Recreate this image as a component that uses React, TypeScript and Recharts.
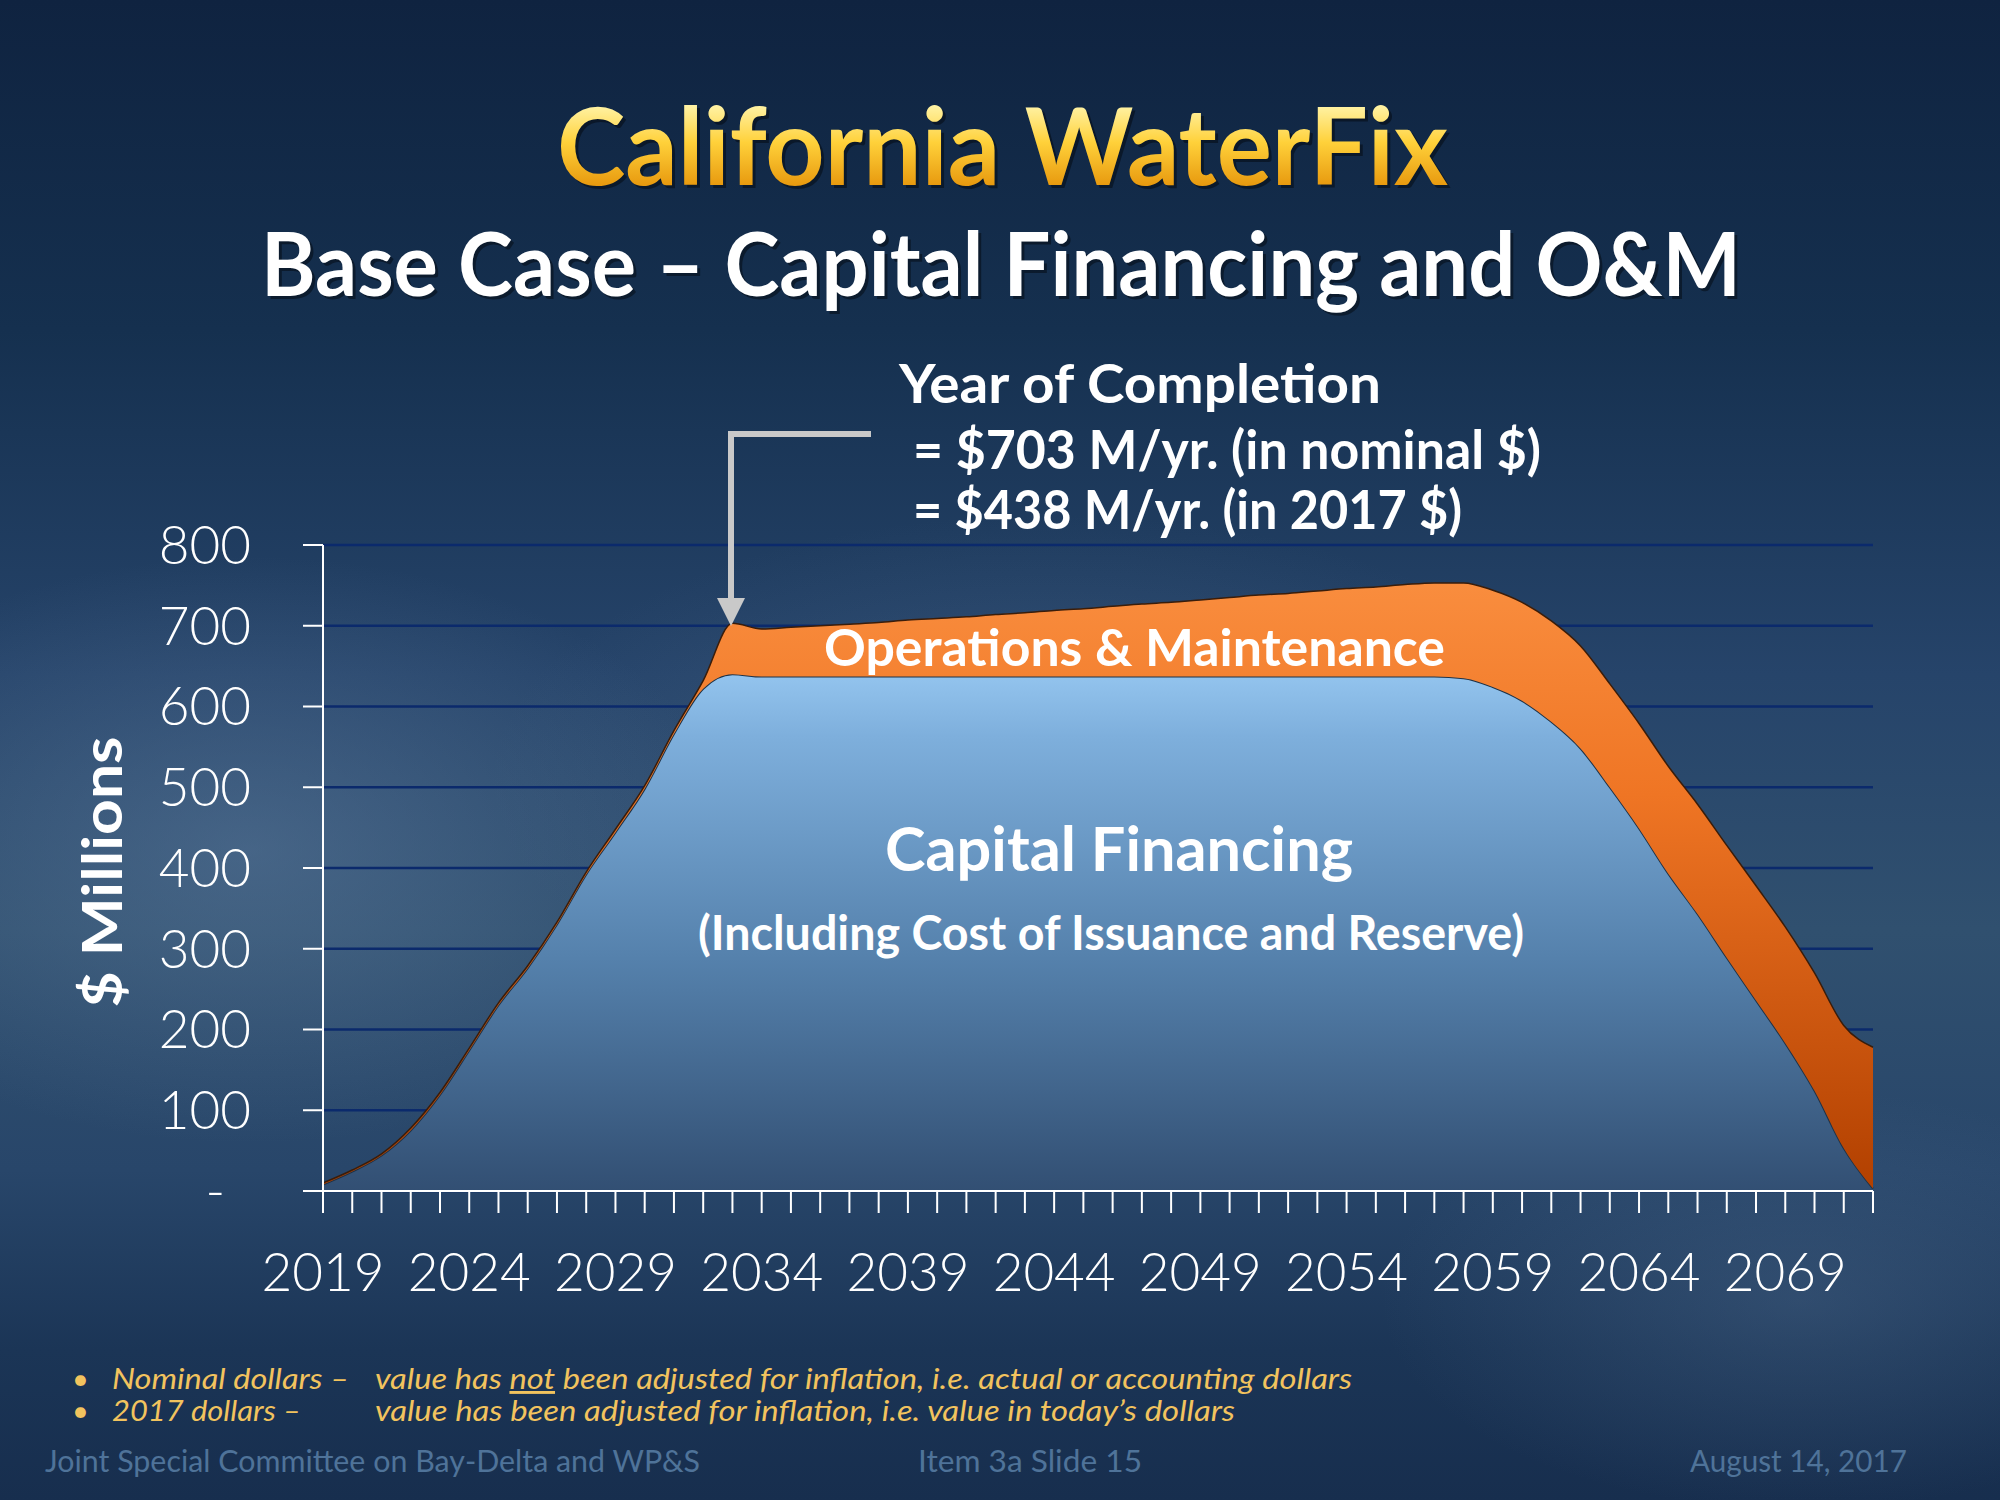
import { AreaChart, Area, XAxis, YAxis, CartesianGrid } from 'recharts';

const years = [
  2019, 2020, 2021, 2022, 2023, 2024, 2025, 2026, 2027, 2028, 2029, 2030, 2031, 2032, 2033,
  2034, 2035, 2036, 2037, 2038, 2039, 2040, 2041, 2042, 2043, 2044, 2045, 2046, 2047, 2048,
  2049, 2050, 2051, 2052, 2053, 2054, 2055, 2056, 2057, 2058, 2059, 2060, 2061, 2062, 2063,
  2064, 2065, 2066, 2067, 2068, 2069, 2070, 2071, 2072,
];

// Capital Financing ($ millions, nominal)
const capital = [
  8, 24, 44, 75, 119, 174, 230, 276, 330, 392, 444, 498, 566, 622, 640,
  637, 637, 637, 637, 637, 637, 637, 637, 637, 637, 637, 637, 637, 637, 637,
  637, 637, 637, 637, 637, 637, 637, 637, 637, 635, 624, 607, 581, 548, 500,
  449, 393, 343, 289, 236, 183, 124, 53, 3,
];

// Operations & Maintenance ($ millions, nominal)
const om = [
  2, 2, 2, 3, 3, 3, 3, 3, 3, 3, 4, 4, 4, 10, 63,
  59, 61, 63, 65, 67, 70, 72, 74, 77, 79, 82, 84, 87, 90, 92,
  95, 98, 101, 103, 106, 109, 111, 114, 116, 118, 120, 122, 125, 127, 128,
  130, 133, 136, 139, 142, 144, 146, 152, 175,
];

const yTicks = [0, 100, 200, 300, 400, 500, 600, 700, 800];

const data = years.map((year, i) => ({ year, capital: capital[i], om: om[i] }));

const FONT = 'Lato, "Open Sans", sans-serif';

function YTick(props: any) {
  const { x, y, payload } = props;
  const v = payload.value;
  return (
    <text
      x={v === 0 ? x - 26 : x}
      y={y}
      dy="0.355em"
      textAnchor="end"
      fill="#ffffff"
      fontSize={53}
      fontFamily={FONT}
      fontWeight={300}
    >
      {v === 0 ? '-' : v}
    </text>
  );
}

export default function App() {
  return (
    <div
      style={{
        position: 'absolute',
        left: 0,
        top: 0,
        width: 2000,
        height: 1500,
        fontFamily: FONT,
        overflow: 'hidden',
        background:
          'radial-gradient(ellipse 700px 420px at 250px 850px, rgba(100,130,165,0.45), transparent 70%),' +
          'radial-gradient(ellipse 800px 380px at 1050px 780px, rgba(85,115,150,0.35), transparent 70%),' +
          'radial-gradient(ellipse 600px 300px at 1800px 1300px, rgba(90,120,155,0.3), transparent 70%),' +
          'linear-gradient(180deg, #0f2340 0%, #15304f 22%, #26446a 45%, #30506f 62%, #28466a 78%, #1b3556 90%, #172e4e 100%)',
      }}
    >
      <div style={{ position: 'absolute', left: 0, top: 0 }}>
        <AreaChart
          width={2000}
          height={1500}
          data={data}
          margin={{ top: 545, right: 127, bottom: 189, left: 0 }}
        >
          <defs>
            <linearGradient id="blueFill" x1="0" y1="0" x2="0" y2="1">
              <stop offset="0%" stopColor="#93c4ee" />
              <stop offset="12%" stopColor="#7eafdc" />
              <stop offset="55%" stopColor="#5581ac" />
              <stop offset="100%" stopColor="#324f73" />
            </linearGradient>
            <linearGradient id="orangeFill" x1="0" y1="0" x2="0" y2="1">
              <stop offset="0%" stopColor="#f98d3e" />
              <stop offset="35%" stopColor="#ef7524" />
              <stop offset="100%" stopColor="#b24000" />
            </linearGradient>
          </defs>
          <CartesianGrid vertical={false} stroke="#0b2a6c" strokeWidth={2.5} />
          <XAxis
            dataKey="year"
            interval={0}
            tickSize={22}
            tickMargin={40}
            height={120}
            axisLine={{ stroke: '#ffffff', strokeWidth: 2 }}
            tickLine={{ stroke: '#ffffff', strokeWidth: 2 }}
            tickFormatter={(y: number) => ((y - 2019) % 5 === 0 ? String(y) : '')}
            tick={{ fill: '#ffffff', fontSize: 53, fontFamily: FONT, fontWeight: 300 }}
          />
          <YAxis
            domain={[0, 800]}
            ticks={yTicks}
            interval={0}
            width={323}
            tickSize={20}
            tickMargin={52}
            axisLine={{ stroke: '#ffffff', strokeWidth: 2 }}
            tickLine={{ stroke: '#ffffff', strokeWidth: 2 }}
            tick={YTick}
          />
          <Area
            type="monotone"
            dataKey="capital"
            stackId="1"
            stroke="#1f3246"
            strokeWidth={2}
            fill="url(#blueFill)"
            fillOpacity={1}
            isAnimationActive={false}
          />
          <Area
            type="monotone"
            dataKey="om"
            stackId="1"
            stroke="#3a1d0a"
            strokeWidth={1.5}
            fill="url(#orangeFill)"
            fillOpacity={1}
            isAnimationActive={false}
          />
        </AreaChart>
      </div>

      {/* Slide text and annotations */}
      <svg
        width={2000}
        height={1500}
        style={{ position: 'absolute', left: 0, top: 0, pointerEvents: 'none' }}
        fontFamily={FONT}
      >
        <defs>
          <linearGradient id="gold" gradientUnits="userSpaceOnUse" x1="0" y1="105" x2="0" y2="188">
            <stop offset="0%" stopColor="#fff3a6" />
            <stop offset="45%" stopColor="#ffd13a" />
            <stop offset="100%" stopColor="#e6960c" />
          </linearGradient>
        </defs>

        <text x={560} y={188} textLength={891} lengthAdjust="spacingAndGlyphs" fontSize={107} fontWeight={700} fill="#000" opacity={0.4}>
          California WaterFix
        </text>
        <text x={557} y={185} textLength={891} lengthAdjust="spacingAndGlyphs" fontSize={107} fontWeight={700} fill="url(#gold)">
          California WaterFix
        </text>

        <text x={264} y={299} textLength={1480} lengthAdjust="spacingAndGlyphs" fontSize={88} fontWeight={700} fill="#000" opacity={0.4}>
          Base Case – Capital Financing and O&amp;M
        </text>
        <text x={261} y={296} textLength={1480} lengthAdjust="spacingAndGlyphs" fontSize={88} fontWeight={700} fill="#ffffff">
          Base Case – Capital Financing and O&amp;M
        </text>

        <text x={899} y={403} textLength={482} lengthAdjust="spacingAndGlyphs" fontSize={54} fontWeight={700} fill="#ffffff">
          Year of Completion
        </text>
        <text x={913} y={469} textLength={628} lengthAdjust="spacingAndGlyphs" fontSize={54} fontWeight={700} fill="#ffffff">
          = $703 M/yr. (in nominal $)
        </text>
        <text x={913} y={529} textLength={549} lengthAdjust="spacingAndGlyphs" fontSize={54} fontWeight={700} fill="#ffffff">
          = $438 M/yr. (in 2017 $)
        </text>

        <polyline points="871,434 731,434 731,602" fill="none" stroke="#c9c9c9" strokeWidth={6} />
        <polygon points="717,598 745,598 731,626" fill="#c9c9c9" />

        <text x={824} y={666} textLength={621} lengthAdjust="spacingAndGlyphs" fontSize={52} fontWeight={700} fill="#ffffff">
          Operations &amp; Maintenance
        </text>
        <text x={885} y={871} textLength={468} lengthAdjust="spacingAndGlyphs" fontSize={62} fontWeight={700} fill="#ffffff">
          Capital Financing
        </text>
        <text x={698} y={950} textLength={826} lengthAdjust="spacingAndGlyphs" fontSize={48} fontWeight={700} fill="#ffffff">
          (Including Cost of Issuance and Reserve)
        </text>

        <text
          x={0}
          y={0}
          transform="translate(122,872) rotate(-90)"
          textAnchor="middle"
          textLength={271}
          lengthAdjust="spacingAndGlyphs"
          fontSize={55}
          fontWeight={700}
          fill="#ffffff"
        >
          $ Millions
        </text>

        <g fill="#f2c35e" fontStyle="italic" fontSize={29}>
          <text x={72} y={1389} fontStyle="normal">•</text>
          <text x={112} y={1389} textLength={237} lengthAdjust="spacingAndGlyphs">Nominal dollars –</text>
          <text x={375} y={1389} textLength={977} lengthAdjust="spacingAndGlyphs">
            value has <tspan textDecoration="underline">not</tspan> been adjusted for inflation, i.e. actual or accounting dollars
          </text>
          <text x={72} y={1421} fontStyle="normal">•</text>
          <text x={112} y={1421} textLength={189} lengthAdjust="spacingAndGlyphs">2017 dollars –</text>
          <text x={375} y={1421} textLength={860} lengthAdjust="spacingAndGlyphs">
            value has been adjusted for inflation, i.e. value in today’s dollars
          </text>
        </g>

        <g fill="#4f7399" fontSize={31}>
          <text x={45} y={1472} textLength={655} lengthAdjust="spacingAndGlyphs">Joint Special Committee on Bay-Delta and WP&amp;S</text>
          <text x={918} y={1472} textLength={224} lengthAdjust="spacingAndGlyphs">Item 3a  Slide 15</text>
          <text x={1690} y={1472} textLength={217} lengthAdjust="spacingAndGlyphs">August 14, 2017</text>
        </g>
      </svg>
    </div>
  );
}
